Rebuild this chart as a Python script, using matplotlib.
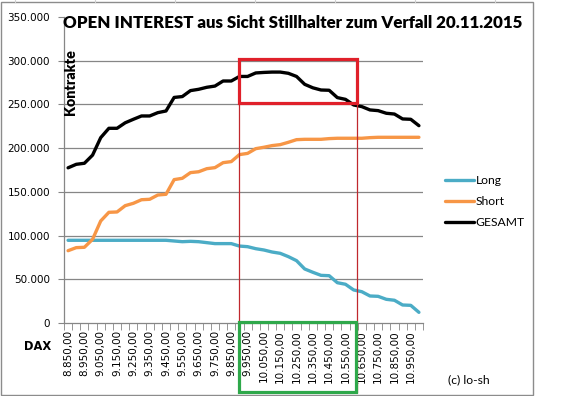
import matplotlib
matplotlib.use("Agg")
import matplotlib.pyplot as plt
from matplotlib.patches import Rectangle
from matplotlib.lines import Line2D

# DAX-Basispreise (Kategorien)
basis = [8850, 8900, 8950, 9000, 9050, 9100, 9150, 9200, 9250, 9300, 9350,
         9400, 9450, 9500, 9550, 9600, 9650, 9700, 9750, 9800, 9850, 9900,
         9950, 10000, 10050, 10100, 10150, 10200, 10250, 10300, 10350, 10400,
         10450, 10500, 10550, 10600, 10650, 10700, 10750, 10800, 10850, 10900,
         10950, 11000]

# Kontrakte je Basis
long_oi = [94600, 94600, 94600, 94600, 94600, 94600, 94600, 94600, 94600,
           94600, 94600, 94600, 94600, 93800, 93000, 93400, 93000, 91900,
           90800, 90800, 90800, 88000, 87300, 85000, 83500, 81200, 79700,
           75900, 71300, 61800, 58000, 54500, 54100, 46100, 44300, 37800,
           35800, 30900, 30500, 27100, 26000, 20600, 20200, 12200]

short_oi = [82700, 86200, 86600, 95700, 116700, 126600, 127000, 134200,
            136900, 141000, 141500, 146400, 147200, 164000, 165500, 172000,
            173000, 176500, 177700, 183400, 184600, 192600, 194000, 199400,
            201000, 202900, 204000, 206700, 209700, 210100, 210100, 210100,
            210900, 211300, 211300, 211300, 211300, 212000, 212400, 212400,
            212400, 212400, 212400, 212400]

gesamt_oi = [177500, 181500, 182700, 192000, 212000, 222700, 222700, 229000,
             233000, 236800, 236800, 240600, 242500, 258000, 259000, 265800,
             267300, 269600, 271000, 276800, 276800, 282000, 282000, 286000,
             286600, 287000, 287000, 285600, 282000, 273000, 269000, 266500,
             266200, 257800, 255800, 249400, 247500, 243700, 242900, 239900,
             239000, 233400, 233000, 225700]

y_ticks = [0, 50000, 100000, 150000, 200000, 250000, 300000, 350000]

fig = plt.figure(figsize=(5.68, 3.96), dpi=100)
ax = fig.add_axes([64 / 568, 73 / 396, 359 / 568, 306 / 396])

x = list(range(len(basis)))
ax.plot(x, long_oi, color="#4BACC6", lw=2.4, label="Long", solid_capstyle="round")
ax.plot(x, short_oi, color="#F79646", lw=2.4, label="Short", solid_capstyle="round")
ax.plot(x, gesamt_oi, color="black", lw=2.4, label="GESAMT", solid_capstyle="round")

ax.set_xlim(-0.5, len(basis) - 0.5)
ax.set_ylim(0, 350000)

# Gitter und Achsen im Excel-Look
for v in y_ticks[1:-1]:
    ax.axhline(v, color="#868686", lw=0.9, zorder=0)
for s in ["top", "right"]:
    ax.spines[s].set_visible(False)
for s in ["left", "bottom"]:
    ax.spines[s].set_color("#868686")
    ax.spines[s].set_linewidth(0.9)

ax.set_yticks(y_ticks)
ax.set_yticklabels(["0" if v == 0 else f"{v:,}".replace(",", ".") for v in y_ticks],
                   fontsize=7.5, family="DejaVu Sans")
ax.tick_params(axis="y", length=4, color="#868686", pad=6)

# Tick-Striche zwischen den Kategorien, Labels jede zweite Kategorie
ax.set_xticks([i - 0.5 for i in range(len(basis) + 1)], minor=True)
ax.set_xticks(x[::2])
ax.set_xticklabels([f"{b:,}".replace(",", ".") + ",00" for b in basis[::2]],
                   rotation=90, fontsize=7.5, family="DejaVu Sans")
ax.tick_params(axis="x", which="major", length=0, pad=5)
ax.tick_params(axis="x", which="minor", length=5, color="#868686")

# Markierungen
ax.add_patch(Rectangle((21.0, 252000), 14.4, 50000, fill=False,
                       ec="#E0202A", lw=2.3, zorder=5))
ax.add_patch(Rectangle((21.0, -79000), 14.3, 80000, fill=False,
                       ec="#2EA84A", lw=2.3, zorder=5, clip_on=False))
ax.add_line(Line2D([21.0, 21.0], [-79000, 252000], color="#C0282E",
                   lw=0.9, zorder=4, clip_on=False))
ax.add_line(Line2D([35.4, 35.4], [-79000, 252000], color="#C0282E",
                   lw=0.9, zorder=4, clip_on=False))

# Texte
fig.text(63 / 568, 1 - 23 / 396,
         "OPEN INTEREST aus Sicht Stillhalter zum Verfall 20.11.2015",
         fontsize=12.2, fontweight="heavy", family="Lato", va="center", ha="left")
fig.text(71 / 568, 1 - 82 / 396, "Kontrakte", rotation=90, fontsize=10.3,
         fontweight="heavy", family="Lato", va="center", ha="center")
fig.text(38 / 568, 1 - 347 / 396, "DAX", fontsize=8.3, fontweight="bold",
         family="DejaVu Sans", va="center", ha="center")
fig.text(448 / 568, 1 - 380 / 396, "(c) lo-sh", fontsize=8.7, family="Lato",
         va="center", ha="left")

leg = ax.legend(loc="upper left", bbox_to_anchor=(434 / 568, 1 - 164 / 396),
                bbox_transform=fig.transFigure, frameon=False,
                prop={"family": "Lato", "size": 8.7}, handlelength=2.45,
                handletextpad=0.1, labelspacing=0.85)

# Rahmen um das Diagramm
fig.add_artist(Rectangle((1 / 568, 1 / 396), 532 / 568, 393 / 396,
                         transform=fig.transFigure, fill=False,
                         ec="#8C8C8C", lw=1.0))
for px in [15, 95, 175, 255, 335, 415, 495]:
    fig.add_artist(Line2D([px / 568, px / 568], [1 - 2 / 396, 1.0],
                          transform=fig.transFigure, color="#D0D0D0", lw=0.8))

fig.savefig("out.png", dpi=100)
